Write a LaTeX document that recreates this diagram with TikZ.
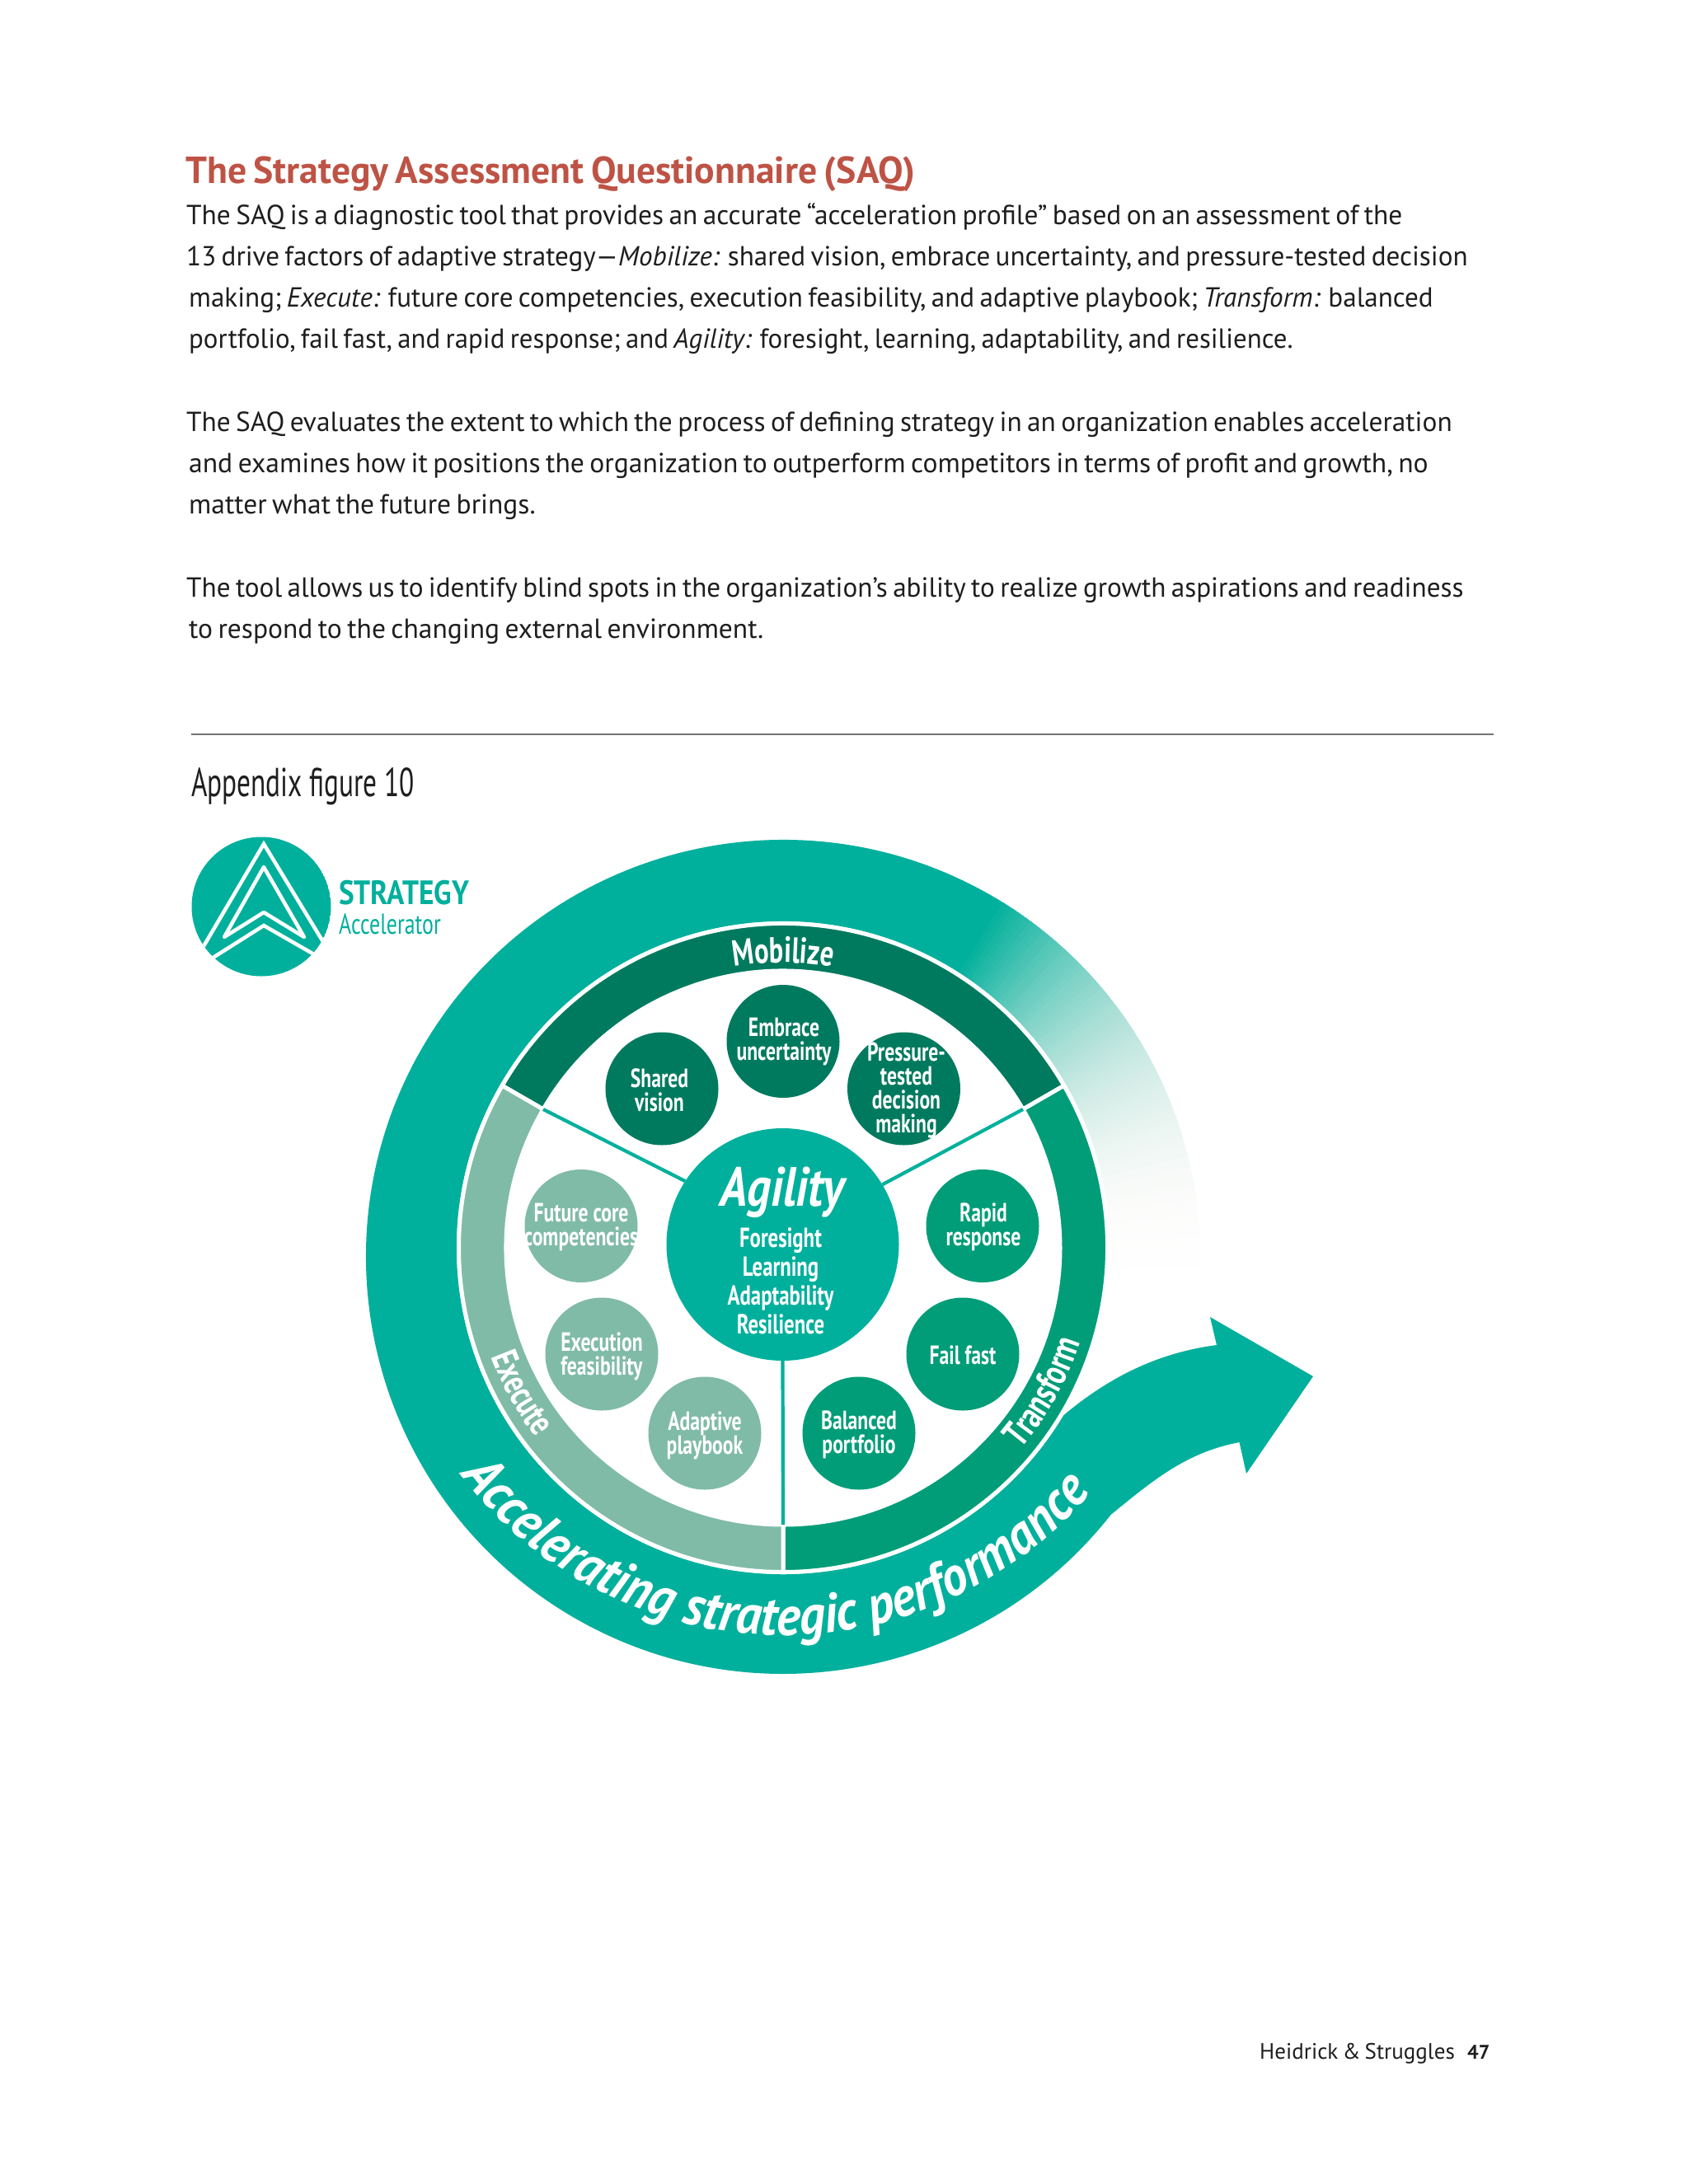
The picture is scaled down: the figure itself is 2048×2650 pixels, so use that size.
\documentclass[tikz,border=0pt]{standalone}
\usepackage{fontspec}
\usetikzlibrary{decorations.text}
\setmainfont{PT Sans}[WordSpace=0.72]
\newfontfamily\condf{PT Sans}[FakeStretch=0.74]
\newfontfamily\condn{PT Sans}[FakeStretch=0.68]
\newfontfamily\condw{PT Sans}[FakeStretch=0.86]
\newfontfamily\condx{PT Sans}[FakeStretch=0.92]
\definecolor{tealm}{HTML}{00B09C}
\definecolor{mobc}{HTML}{007A5E}
\definecolor{trac}{HTML}{009D78}
\definecolor{exec}{HTML}{80BBA7}
\definecolor{titc}{HTML}{BE5345}
\definecolor{bodyc}{HTML}{1E1E1E}
\definecolor{fadec}{HTML}{F9F1EC}
\newcommand{\fs}[2]{\fontsize{#1}{#2}\selectfont}
\newcommand{\annsec}[5]{\filldraw[draw=white,line width=5,fill=#1] (#2:#4) arc[start angle=#2,end angle=#3,radius=#4] -- (#3:#5) arc[start angle=#3,end angle=#2,radius=#5] -- cycle;}
\tikzset{
  bodyline/.style={anchor=base west,inner sep=0,text=bodyc,font=\fs{33.5}{40}},
  circm/.style={circle,minimum size=137,inner sep=0,fill=mobc},
  circt/.style={circle,minimum size=137,inner sep=0,fill=trac},
  circe/.style={circle,minimum size=137,inner sep=0,fill=exec},
  lab/.style={align=center,text=white,inner sep=0,font=\condf\bfseries\fs{32}{29}},
  spoke/.style={draw=tealm,line width=4.2},
  logoline/.style={draw=white,line width=4.5},
}
\begin{document}
\begin{tikzpicture}[x=1pt,y=-1pt]
\useasboundingbox (0,0) rectangle (2048,2650);
\fill[white] (0,0) rectangle (2048,2650);
% ---- text block
\node[anchor=base west,inner sep=0,text=titc,font=\bfseries\fs{45.7}{50}] (title) at (225,222) {The Strategy Assessment Questionnaire (SAQ)};
\node[bodyline] (l1) at (226,272) {\scalebox{.996}[1]{The SAQ is a diagnostic tool that provides an accurate “acceleration profile” based on an assessment of the}};
\node[bodyline] (l2) at (226,322) {\scalebox{.989}[1]{13 drive factors of adaptive strategy—\textit{Mobilize:} shared vision, embrace uncertainty, and pressure-tested decision}};
\node[bodyline] (l3) at (229,372) {\scalebox{.988}[1]{making; \textit{Execute:} future core competencies, execution feasibility, and adaptive playbook; \textit{Transform:} balanced}};
\node[bodyline] (l4) at (229,422) {\scalebox{.981}[1]{portfolio, fail fast, and rapid response; and \textit{Agility:} foresight, learning, adaptability, and resilience.}};
\node[bodyline] (l5) at (226,523) {\scalebox{.9945}[1]{The SAQ evaluates the extent to which the process of defining strategy in an organization enables acceleration}};
\node[bodyline] (l6) at (229,573) {\scalebox{1.003}[1]{and examines how it positions the organization to outperform competitors in terms of profit and growth, no}};
\node[bodyline] (l7) at (229,623) {matter what the future brings.};
\node[bodyline] (l8) at (226,724) {\scalebox{.991}[1]{The tool allows us to identify blind spots in the organization’s ability to realize growth aspirations and readiness}};
\node[bodyline] (l9) at (229,774) {to respond to the changing external environment.};
\coordinate (ruleA) at (232,891);
\coordinate (ruleB) at (1812,891);
\draw[draw=black!55,line width=1.6] (ruleA) -- (ruleB);
\node[anchor=base west,inner sep=0,text=bodyc,font=\condn\fs{49}{50}] (fig) at (232,966) {Appendix figure 10};
% ---- logo
\begin{scope}
\clip (317,1100) circle (84.5);
\fill[tealm] (317,1100) circle (84.5);
\draw[logoline,line join=miter] (240,1160) -- (320,1024) -- (400,1156);
\draw[logoline,line join=miter] (252,1166) -- (320,1123) -- (388,1162);
\draw[logoline,line join=round] (320,1052) -- (272,1137) -- (320,1107) -- (369,1137) -- cycle;
\end{scope}
\node[anchor=base west,inner sep=0,text=tealm,font=\condw\bfseries\fs{41}{44}] (strat) at (411,1097) {STRATEGY};
\node[anchor=base west,inner sep=0,text=tealm,font=\condf\fs{35}{40}] (accel) at (411,1133) {Accelerator};
% ---- swoosh
\begin{scope}[shift={(950,1525)}]
\foreach \t in {301,301.75,...,360.5}{
  \pgfmathsetmacro\u{max(0,1-(\t-301)/61)}
  \pgfmathsetmacro\p{100*(\u)^2.5}
  \pgfmathsetmacro\q{100*(\u)}
  \colorlet{gc}{fadec!\q!white}
  \fill[tealm!\p!gc] (0,0) -- (\t:506) arc[start angle=\t,end angle=\t+1.2,radius=506] -- cycle;
}
\fill[tealm] (0,0) -- (301.2:506) arc[start angle=301.2,end angle=38.2,radius=506]
  .. controls (1400-950,1795-1525) and (1440-950,1762-1525) .. (1503.5-950,1750-1525)
  -- (1512-950,1788-1525) -- (1593-950,1670-1525) -- (1468-950,1598-1525) -- (1476-950,1632-1525)
  .. controls (1400-950,1642-1525) and (1335-950,1675-1525) .. (1270-950,1735-1525) -- cycle;
\end{scope}
\fill[white] (950,1514) circle (396);
% ---- ring
\begin{scope}[shift={(950,1514)}]
\annsec{mobc}{210}{330}{393.5}{336}
\annsec{trac}{330}{450}{393.5}{336}
\annsec{exec}{90}{210}{393.5}{336}
\coordinate (spL) at (210:336);
\coordinate (spR) at (330:336);
\coordinate (spB) at (90:336);
\path[decorate,decoration={text along path,text align=center,text={|\condf\bfseries\fs{44}{44}\color{white}|Mobilize}}] (240:346) arc[start angle=240,end angle=300,radius=346];
\path[decorate,decoration={text along path,text align=center,text={|\condf\bfseries\fs{46}{46}\color{white}|Transform}}] (60:378) arc[start angle=60,end angle=-2,radius=378];
\path[decorate,decoration={text along path,text align=center,text={|\condf\bfseries\fs{45}{45}\color{white}|Execute}}] (180:378) arc[start angle=180,end angle=122,radius=378];
\end{scope}
\begin{scope}[shift={(950,1494)}]
\path[decorate,decoration={text along path,text align=center,text={|\condx\bfseries\itshape\fs{67.3}{68}\color{white}|Accelerating strategic performance}}] (161.6:490) arc[start angle=161.6,end angle=21.6,radius=490];
\end{scope}
% ---- centre
\node[circle,minimum size=282,inner sep=0,fill=tealm] (agility) at (949.5,1510) {};
\draw[spoke] (agility.147.5) -- (spL);
\draw[spoke] (agility.31) -- (spR);
\draw[spoke] (agility.270) -- (spB);
\node[anchor=base,inner sep=0,text=white,font=\condw\bfseries\itshape\fs{67}{67}] (agt) at (949,1463) {Agility};
\node[lab,font=\condf\bfseries\fs{33.5}{35}] (agl) at (947,1554) {Foresight\\Learning\\Adaptability\\Resilience};
% ---- small circles
\node[circm] (c1) at (803,1321) {};
\node[circm] (c2) at (950,1263.5) {};
\node[circm] (c3) at (1096.5,1321) {};
\node[circt] (c4) at (1192,1487.5) {};
\node[circt] (c5) at (1168,1643) {};
\node[circt] (c6) at (1042,1739) {};
\node[circe] (c7) at (855,1739) {};
\node[circe] (c8) at (730,1643) {};
\node[circe] (c9) at (705,1487.5) {};
\node[lab,xshift=-3pt,yshift=-2pt] at (c1) {Shared\\vision};
\node[lab,xshift=1pt,yshift=-1pt] at (c2) {Embrace\\uncertainty};
\node[lab,xshift=3pt,yshift=-2pt] at (c3) {Pressure-\\tested\\decision\\making};
\node[lab,xshift=1pt,yshift=-1pt] at (c4) {Rapid\\response};
\node[lab,yshift=-1pt] at (c5) {Fail fast};
\node[lab,yshift=-2pt] at (c6) {Balanced\\portfolio};
\node[lab,yshift=-3pt] at (c7) {Adaptive\\playbook};
\node[lab,yshift=-3pt] at (c8) {Execution\\feasibility};
\node[lab,yshift=-1pt] at (c9) {Future core\\competencies};
% ---- footer
\node[anchor=base west,inner sep=0,text=bodyc,font=\fs{27}{30}] (foot) at (1528,2498) {Heidrick \& Struggles};
\node[anchor=base west,inner sep=0,text=bodyc,font=\bfseries\fs{24}{30}] (page) at (1780,2498) {47};
\end{tikzpicture}
\end{document}
